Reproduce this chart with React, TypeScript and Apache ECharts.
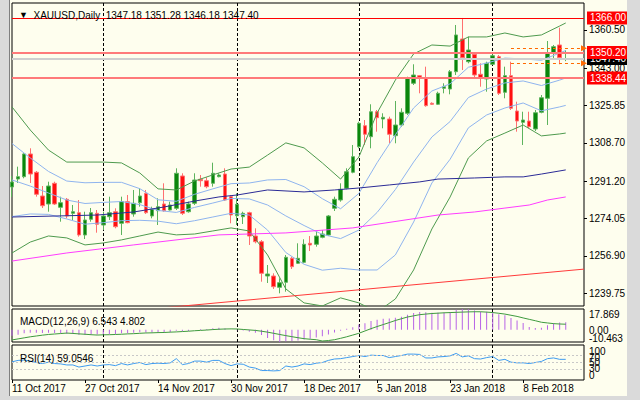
import React, { useEffect, useRef } from "react";
import * as echarts from "echarts";

const FONT = '"Liberation Sans", Arial, sans-serif';

// ---- Daily candles (Oct 11 2017 .. Feb 19 2018) ----
const opens = [1288.46,1292.13,1293.19,1303.60,1295.21,1284.33,1280.67,1290.16,1279.15,1282.82,1276.40,1276.68,1266.45,1273.65,1276.40,1271.03,1274.84,1277.13,1271.81,1281.72,1276.08,1281.26,1285.57,1275.16,1277.59,1280.67,1277.91,1278.69,1293.51,1277.13,1280.98,1291.99,1291.35,1290.16,1293.19,1294.43,1284.02,1275.30,1274.84,1276.68,1265.98,1263.37,1247.64,1247.64,1242.45,1244.75,1255.76,1253.46,1253.92,1262.64,1262.18,1265.39,1266.45,1278.69,1282.50,1287.87,1295.21,1306.95,1316.58,1311.54,1323.00,1319.65,1319.65,1312.00,1316.90,1322.27,1336.03,1339.52,1338.60,1326.86,1326.40,1333.74,1333.42,1341.35,1356.35,1345.94,1349.33,1340.16,1338.00,1344.75,1348.23,1331.90,1339.52,1323.32,1318.14,1318.74,1315.07,1322.73,1329.15,1349.79,1353.60,1347.18];
const highs = [1293.51,1297.78,1303.92,1306.22,1295.80,1288.92,1290.89,1290.89,1284.01,1283.42,1280.21,1282.50,1277.13,1278.83,1277.91,1277.13,1284.02,1278.69,1284.02,1284.79,1287.09,1287.87,1287.09,1279.43,1283.28,1290.16,1281.72,1297.04,1294.75,1281.72,1294.75,1293.97,1292.91,1299.61,1294.75,1297.04,1284.79,1285.57,1277.13,1277.13,1269.52,1264.15,1252.68,1248.88,1246.58,1257.27,1256.49,1262.64,1264.47,1265.98,1268.42,1268.74,1275.62,1284.02,1290.16,1297.04,1307.73,1318.41,1319.19,1326.40,1323.78,1322.27,1320.71,1327.91,1324.56,1339.06,1344.75,1339.84,1343.65,1327.30,1332.18,1336.03,1342.13,1362.77,1366.00,1357.41,1350.25,1345.20,1345.94,1349.33,1349.01,1343.65,1345.94,1327.59,1323.00,1323.00,1323.78,1330.66,1355.43,1353.60,1361.53,1351.28];
const lows = [1283.88,1290.30,1292.45,1290.30,1284.02,1278.83,1277.13,1280.21,1272.55,1274.10,1273.33,1265.67,1264.61,1272.55,1267.50,1268.74,1273.33,1269.52,1266.45,1271.81,1274.84,1279.43,1276.08,1274.10,1271.03,1277.13,1277.68,1277.91,1275.62,1276.68,1280.21,1288.60,1287.87,1288.60,1292.90,1282.04,1271.81,1271.03,1271.49,1261.86,1262.64,1245.02,1244.43,1241.68,1239.70,1240.44,1250.85,1253.14,1253.46,1259.10,1261.08,1264.93,1265.98,1277.45,1281.72,1287.41,1294.75,1306.22,1307.73,1306.22,1313.83,1315.39,1308.51,1308.51,1316.12,1321.49,1335.25,1331.44,1325.30,1326.08,1326.08,1331.44,1330.98,1339.84,1342.13,1345.20,1338.32,1334.47,1332.18,1344.42,1330.66,1329.15,1323.78,1313.83,1307.73,1315.39,1314.15,1322.27,1316.90,1347.50,1344.75,1346.18];
const closes = [1290.76,1293.19,1303.60,1294.43,1285.11,1279.89,1288.92,1280.67,1281.26,1275.16,1277.13,1266.45,1273.33,1276.68,1271.35,1275.16,1276.68,1270.25,1281.72,1272.09,1280.98,1284.33,1276.68,1278.23,1279.43,1277.59,1280.21,1294.75,1276.40,1280.67,1291.67,1291.35,1288.60,1294.75,1293.97,1282.50,1275.62,1280.53,1276.40,1265.98,1263.37,1248.88,1248.56,1242.73,1244.57,1256.22,1251.91,1255.76,1262.18,1261.86,1265.98,1266.90,1275.16,1282.82,1287.41,1295.48,1302.36,1317.68,1312.64,1323.00,1320.25,1320.43,1312.64,1316.90,1322.73,1338.32,1339.84,1338.32,1325.76,1326.40,1331.44,1334.47,1341.35,1358.19,1347.77,1351.30,1339.84,1338.60,1345.20,1348.69,1331.44,1339.52,1324.56,1318.74,1319.19,1316.12,1322.54,1329.42,1349.79,1352.82,1347.77,1347.40];

// ---- Bands (bar index -> price) ----
const bandIdx = [0,3,6,9,12,15,18,21,24,27,30,33,36,39,42,45,48,51,54,57,60,63,66,69,72,75,78,81,84,87,90,91];
const bbUpper2 = [1325.2,1314.6,1305.4,1299.9,1299.9,1299.9,1299.5,1294.9,1287.6,1287.1,1291.2,1294.0,1296.7,1297.6,1303.1,1308.7,1306.4,1299.5,1292.1,1302.2,1322.4,1337.5,1349.5,1353.6,1353.1,1357.3,1357.3,1359.1,1357.3,1358.2,1362.3,1363.7];
const bbLower2 = [1258.2,1263.2,1266.0,1265.1,1261.9,1262.8,1264.2,1266.0,1267.8,1266.5,1266.9,1268.3,1269.7,1268.3,1257.3,1241.7,1235.3,1233.9,1237.6,1235.3,1231.1,1237.1,1250.4,1269.2,1283.9,1301.8,1309.6,1313.2,1316.9,1311.9,1312.8,1313.2];
const bbUpper1 = [1308.4,1301.8,1295.6,1291.2,1290.4,1290.6,1290.6,1287.7,1282.6,1281.9,1285.1,1287.6,1290.0,1290.3,1291.7,1291.9,1288.6,1283.1,1278.5,1285.5,1299.6,1312.4,1324.7,1332.5,1335.8,1343.4,1345.3,1347.6,1347.2,1346.6,1349.9,1351.1];
const bbMiddle = [1291.7,1288.9,1285.7,1282.5,1280.9,1281.4,1281.8,1280.4,1277.7,1276.8,1279.1,1281.1,1283.2,1283.0,1280.2,1275.2,1270.8,1266.7,1264.8,1268.7,1276.8,1287.3,1299.9,1311.4,1318.5,1329.5,1333.4,1336.2,1337.1,1335.0,1337.5,1338.5];
const bbLower1 = [1274.9,1276.1,1275.9,1273.8,1271.4,1272.1,1273.0,1273.2,1272.8,1271.6,1273.0,1274.7,1276.4,1275.6,1268.7,1258.4,1253.0,1250.3,1251.2,1250.4,1250.4,1257.3,1272.4,1290.3,1301.2,1315.6,1321.5,1324.7,1327.0,1323.4,1325.2,1325.9];

const maSlowIdx = [0,14,20,25,30,34,37,42,48,53,57,62,67,70,76,81,84,87,91];
const maSlow = [1274.7,1275.6,1277.0,1279.3,1282.0,1283.9,1284.8,1287.1,1286.2,1287.1,1288.0,1289.4,1290.8,1292.1,1292.6,1293.1,1293.1,1294.4,1296.3];
const maLongIdx = [0,9,20,34,45,56,70,76,81,85,88,91];
const maLong = [1254.5,1258.2,1261.9,1266.5,1267.4,1269.7,1275.6,1277.0,1278.8,1280.2,1282.5,1283.9];

const trendIdx = [20, 94];
const trendVal = [1231.8, 1250.8];

// ---- MACD(12,26,9) ----
const macdMain = [-5,-4.3,-3,-2.5,-2.5,-2.8,-2.5,-2.8,-3,-3.3,-3.5,-4.2,-4.2,-4,-4,-3.8,-3.5,-3.5,-3,-3,-2.6,-2.1,-2.2,-2.2,-2.1,-2.1,-2,-0.8,-1.2,-1.1,0,0.6,0.8,1.4,1.7,1.1,0,-0.3,-0.6,-1.6,-2.6,-4.5,-7,-9,-10.463,-9.8,-9.6,-9.2,-8.3,-7.6,-6.6,-5.6,-4,-2.3,-0.8,0.9,2.3,4.5,5.7,7.5,8.7,9.6,9.8,10.4,11.2,13,14.4,15.2,15,14.6,14.6,14.7,15.3,17.2,17.869,17.6,16.6,15.6,15.5,15.2,13.3,12.5,10.2,7.9,5.9,2.5,1.6,1.8,3.9,5.6,6.2,6.543];
const macdSignal = [-8.7,-7.8,-6.9,-6,-5.3,-4.6,-4,-3.6,-3.2,-2.8,-3.1,-3.5,-3.8,-4.2,-4.5,-4.3,-4.2,-4,-3.8,-3.5,-3.3,-3,-2.7,-2.6,-2.4,-2.3,-2,-1.8,-1.5,-1.2,-0.8,-0.5,-0.2,0.2,0.5,0.7,0.8,0.7,0.3,-0.1,-0.5,-1.2,-2,-3,-4,-5,-5.9,-6.8,-7.6,-8.1,-8.5,-9.6,-9.2,-8.5,-7.3,-6,-4.5,-3,-1,1,2.8,4.5,6.2,8,9.5,11,12,13,13.5,14,14.3,14.6,14.8,15,15.2,15.4,15.5,15.5,15.2,14.8,14.2,13.5,12.5,11.5,10.2,9,7.8,6.5,5.9,5.3,5,4.802];

// ---- RSI(14) ----
const rsi = [52,56,57,54,50,47,51,47,46,43,43,37,40,43,40,43,44,41,47,43,47,50,44,47,48,47,49,61,44,47,54,54,51,56,56,47,41,46,45,37,34,27,27,26,27,40,37,40,46,44,48,50,56,60,61,64,67,70,67,71,70,70,64,67,70,74,74,73,63,63,66,67,69,76,66,69,61,60,64,67,56,59,51,49,49,47,50,53,61,63,59,59.05];

// ---- Axis texts ----
const monthStartIdx = [15, 37, 57, 79];
const dateTickIdx = [0, 12, 24, 36, 48, 60, 72, 84];
const dateTickLabels = ["11 Oct 2017", "27 Oct 2017", "14 Nov 2017", "30 Nov 2017", "18 Dec 2017", "5 Jan 2018", "23 Jan 2018", "8 Feb 2018"];
const priceTicks = [1360.5, 1343.0, 1325.85, 1308.7, 1291.2, 1274.05, 1256.9, 1239.75];
const redLevels = [1366.0, 1350.2, 1338.44];
const bidPrice = 1347.4;
const arrowLevels = [1352.08, 1345.2];
const macdTicks = [17.869, 0, -10.463];
const macdTickText = ["17.869", "0.00", "-10.463"];
const rsiTicks = [100, 70, 50, 30, 0];
const rsiLevels = [70, 50, 30];

const N_CATS = 95;
const cats = Array.from({ length: N_CATS }, (_, i) => String(i));
const pairs = (idx: number[], vals: number[]) => idx.map((x, k) => [x, vals[k]]);

function xAxisFor(gi: number, labels: boolean) {
  return {
    type: "category",
    gridIndex: gi,
    data: cats,
    boundaryGap: false,
    axisLine: { show: false },
    axisTick: {
      show: labels,
      interval: (i: number) => dateTickIdx.includes(i),
      length: 3,
      lineStyle: { color: "#000" },
    },
    axisLabel: {
      show: labels,
      interval: (i: number) => dateTickIdx.includes(i),
      formatter: (_v: string, i: number) => {
        const k = dateTickIdx.indexOf(i);
        return k >= 0 ? dateTickLabels[k] : "";
      },
      align: "left",
      margin: 3,
      color: "#000",
      fontSize: 10,
      fontFamily: FONT,
    },
    splitLine: {
      show: true,
      interval: (i: number) => monthStartIdx.includes(i),
      lineStyle: { color: "#000", width: 1, type: [3, 2] },
    },
  };
}

const lineS = (name: string, data: any, color: string, xi = 0, yi = 0, width = 1) => ({
  name,
  type: "line",
  xAxisIndex: xi,
  yAxisIndex: yi,
  data,
  showSymbol: false,
  symbol: "none",
  silent: true,
  lineStyle: { color, width },
});

const lblStyle = { fontSize: 10, fontFamily: FONT, color: "#000" };

// one axis per label so that the sub-window labels may overlap like in the original
function singleLabelAxis(gi: number, min: number, max: number, value: number, text: string, padTop: number, padBottom: number) {
  return {
    type: "value",
    gridIndex: gi,
    position: "right",
    min,
    max,
    splitLine: { show: false },
    axisLine: { show: false },
    axisTick: { show: false },
    axisLabel: {
      customValues: [value],
      showMinLabel: true,
      showMaxLabel: true,
      margin: 5,
      ...lblStyle,
      formatter: () => "{a|" + text + "}",
      rich: { a: { ...lblStyle, padding: [padTop, 0, padBottom, 0] } },
    },
  };
}

function buildOption() {
  const candleData = opens.map((o, i) => [o, closes[i], lows[i], highs[i]]);
  const levelItem = (v: number, line: string, w: number, bg: string) => ({
    yAxis: v,
    lineStyle: { color: line, width: w, type: "solid" },
    label: {
      show: true,
      position: "end",
      distance: 3,
      formatter: v.toFixed(2),
      backgroundColor: bg,
      color: "#fff",
      padding: [2, 3, 1, 3],
      fontSize: 10,
      fontFamily: FONT,
    },
  });
  const arrowItem = (v: number) => [
    { coord: [82, v], symbol: "none" },
    { coord: [94, v], symbol: "triangle", symbolSize: [6, 6] },
  ];

  const macdPads = [[11, 0], [2, 0], [0, 8]];
  const rsiPads = [[12, 0], [3, 0], [0, 0], [0, 3], [0, 10]];

  const yAxes: any[] = [
    {
      type: "value",
      gridIndex: 0,
      position: "right",
      min: 1233.88,
      max: 1372.86,
      splitLine: { show: false },
      axisLine: { show: false },
      axisTick: { show: true, customValues: priceTicks, length: 3, lineStyle: { color: "#000" } },
      axisLabel: { customValues: priceTicks, formatter: (v: number) => v.toFixed(2), margin: 5, ...lblStyle },
    },
    ...macdTicks.map((v, k) => singleLabelAxis(1, -10.463, 17.869, v, macdTickText[k], macdPads[k][0], macdPads[k][1])),
    ...rsiTicks.map((v, k) => singleLabelAxis(2, 0, 100, v, String(v), rsiPads[k][0], rsiPads[k][1])),
  ];
  const MACD_Y = 1;
  const RSI_Y = 1 + macdTicks.length;

  return {
    animation: false,
    backgroundColor: "#FEFEEE",
    title: [
      {
        text: "{t|▼}  XAUUSD,Daily  1347.18 1351.28 1346.18 1347.40",
        left: 14,
        top: 5,
        textStyle: { ...lblStyle, fontWeight: "normal", rich: { t: { fontSize: 9, fontFamily: FONT, color: "#000" } } },
      },
      { text: "MACD(12,26,9) 6.543 4.802", left: 15, top: 311, textStyle: { ...lblStyle, fontWeight: "normal" } },
      { text: "RSI(14) 59.0546", left: 15, top: 348, textStyle: { ...lblStyle, fontWeight: "normal" } },
    ],
    grid: [
      { left: 12, right: 56, top: 3, height: 303, show: true, borderColor: "#000", borderWidth: 1, backgroundColor: "transparent" },
      { left: 12, right: 56, top: 309, height: 33, show: true, borderColor: "#000", borderWidth: 1, backgroundColor: "transparent" },
      { left: 12, right: 56, top: 345, height: 35, show: true, borderColor: "#000", borderWidth: 1, backgroundColor: "transparent" },
    ],
    xAxis: [xAxisFor(0, false), xAxisFor(1, false), xAxisFor(2, true)],
    yAxis: yAxes,
    series: [
      {
        type: "candlestick",
        xAxisIndex: 0,
        yAxisIndex: 0,
        data: candleData,
        barWidth: 4,
        silent: true,
        itemStyle: {
          color: "#0B860B",
          color0: "#FF1010",
          borderColor: "#5DB35D",
          borderColor0: "#FF7070",
          borderWidth: 1,
        },
        markLine: {
          silent: true,
          symbol: ["none", "none"],
          animation: false,
          data: [
            levelItem(bidPrice, "#CFCFCF", 2, "#000"),
            levelItem(redLevels[0], "#FF0000", 1, "#FF0000"),
            levelItem(redLevels[1], "#FF7A7A", 2, "#FF0000"),
            levelItem(redLevels[2], "#FF7A7A", 2, "#FF0000"),
            ...arrowLevels.map((v) => {
              const a: any = arrowItem(v);
              a[0].lineStyle = { color: "#FF6A00", width: 1, type: [3, 3] };
              a[0].label = { show: false };
              return a;
            }),
          ],
        },
      },
      lineS("bbU2", pairs(bandIdx, bbUpper2), "#4E9A4E"),
      lineS("bbL2", pairs(bandIdx, bbLower2), "#4E9A4E"),
      lineS("bbU1", pairs(bandIdx, bbUpper1), "#8FB4EE"),
      lineS("bbM", pairs(bandIdx, bbMiddle), "#8FB4EE"),
      lineS("bbL1", pairs(bandIdx, bbLower1), "#8FB4EE"),
      lineS("maSlow", pairs(maSlowIdx, maSlow), "#2B2B96"),
      lineS("maLong", pairs(maLongIdx, maLong), "#FF3CFF"),
      lineS("trend", pairs(trendIdx, trendVal), "#FF3A3A"),
      {
        type: "bar",
        xAxisIndex: 1,
        yAxisIndex: MACD_Y,
        data: macdMain,
        barWidth: 1,
        silent: true,
        itemStyle: { color: "#B763E6" },
      },
      lineS("signal", macdSignal, "#3E9A3E", 1, MACD_Y),
      {
        ...lineS("rsi", rsi, "#3D9BF0", 2, RSI_Y),
        markLine: {
          silent: true,
          symbol: ["none", "none"],
          label: { show: false },
          lineStyle: { color: "#C8C8C8", type: [2, 2], width: 1 },
          data: rsiLevels.map((v) => ({ yAxis: v })),
        },
      },
    ],
    graphic: [
      { type: "rect", silent: true, z: 100, shape: { x: 0, y: 0, width: 9, height: 400 }, style: { fill: "#DADADA" } },
      { type: "rect", silent: true, z: 100, shape: { x: 627, y: 0, width: 13, height: 400 }, style: { fill: "#DADADA" } },
      { type: "rect", silent: true, z: 100, shape: { x: 0, y: 396, width: 640, height: 4 }, style: { fill: "#DADADA" } },
      { type: "line", silent: true, z: 100, shape: { x1: 9.5, y1: 0, x2: 9.5, y2: 396 }, style: { stroke: "#808080", lineWidth: 1 } },
    ],
  };
}

export default function App() {
  const ref = useRef<HTMLDivElement>(null);
  useEffect(() => {
    if (!ref.current) return;
    const chart = echarts.init(ref.current, null, { renderer: "svg" });
    chart.setOption(buildOption() as any);
    return () => chart.dispose();
  }, []);
  return (
    <div
      ref={ref}
      style={{ position: "fixed", left: 0, top: 0, width: 640, height: 400 }}
    />
  );
}
